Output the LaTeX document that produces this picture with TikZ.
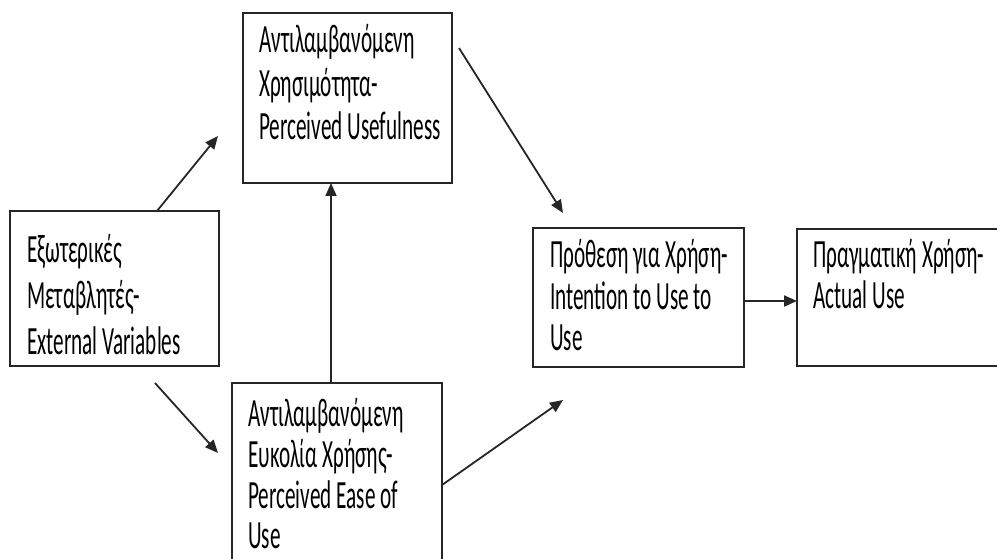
\documentclass[tikz,border=0pt]{standalone}
\usepackage{fontspec}
\setmainfont{Carlito}
\newfontfamily\lblfont[FakeStretch=0.53]{Carlito}
\usetikzlibrary{arrows.meta}
\begin{document}
\begin{tikzpicture}[x=1pt,y=-1pt,
  boxst/.style={draw=black!85,line width=2.2pt,inner sep=0pt,outer sep=0pt,anchor=north west},
  lbl/.style={anchor=base west,inner sep=0pt,font=\lblfont\fontsize{40}{47}\selectfont},
  arr/.style={draw=black!85,line width=1.8pt,-{Triangle[length=13pt,width=11pt]}}]
\clip (0,0) rectangle (997,559);
\fill[white] (0,0) rectangle (997,559);
% boxes
\node[boxst,minimum width=209pt,minimum height=155pt] (ext) at (10,211) {};
\node[boxst,minimum width=209pt,minimum height=170pt] (pu) at (243,13) {};
\node[boxst,minimum width=210pt,minimum height=195pt] (peou) at (232,383) {};
\node[boxst,minimum width=211pt,minimum height=139pt] (int) at (533,228) {};
\node[boxst,minimum width=215pt,minimum height=137pt] (act) at (797,229) {};
% texts
\node[lbl] (t1a) at (27,262) {Εξωτερικές};
\node[lbl] (t1b) at (27,308) {Μεταβλητές-};
\node[lbl] (t1c) at (27,354) {External Variables};
\node[lbl] (t2a) at (259,53) {Αντιλαμβανόμενη};
\node[lbl] (t2b) at (259,97) {Χρησιμότητα-};
\node[lbl] (t2c) at (259,140) {Perceived Usefulness};
\node[lbl] (t3a) at (248,426) {Αντιλαμβανόμενη};
\node[lbl] (t3b) at (248,467) {Ευκολία Χρήσης-};
\node[lbl] (t3c) at (248,508) {Perceived Ease of};
\node[lbl] (t3d) at (248,548) {Use};
\node[lbl] (t4a) at (550,268) {Πρόθεση για Χρήση-};
\node[lbl] (t4b) at (550,309) {Intention to Use to};
\node[lbl] (t4c) at (550,350) {Use};
\node[lbl] (t5a) at (813,268) {Πραγματική Χρήση-};
\node[lbl] (t5b) at (813,308) {Actual Use};
% free ends
\coordinate (e1) at (218,136);
\coordinate (s2) at (155,383);
\coordinate (e2) at (218,453);
\coordinate (s4) at (459,48);
\coordinate (e4) at (563,213);
\coordinate (e5) at (563,400);
\coordinate (y6) at (0,301);
% connectors
\draw[arr] ([xshift=147pt]ext.north west) -- (e1);
\draw[arr] (s2) -- (e2);
\draw[arr] ([xshift=99pt]peou.north west) -- ([xshift=88pt]pu.south west);
\draw[arr] (s4) -- (e4);
\draw[arr] (peou.east |- 0,485) -- (e5);
\draw[arr] (int.east |- y6) -- (act.west |- y6);
\end{tikzpicture}
\end{document}
